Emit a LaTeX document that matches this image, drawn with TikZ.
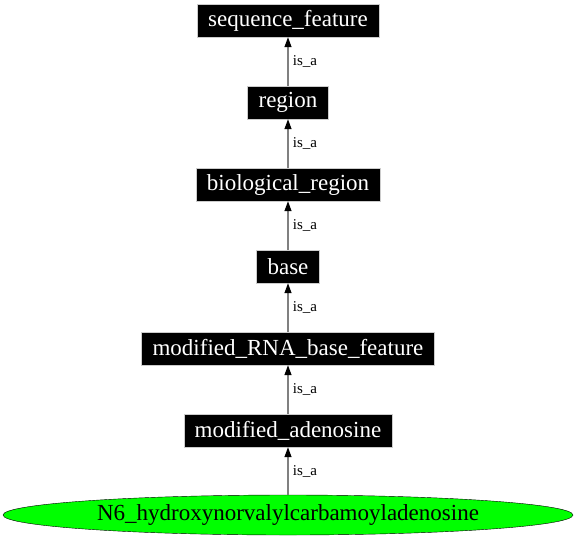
\documentclass[tikz,border=0pt]{standalone}
\usepackage{fontspec}
\setmainfont{Liberation Serif}
\usetikzlibrary{arrows.meta,shapes.geometric}
\definecolor{termc}{HTML}{000000}
\definecolor{leafc}{HTML}{00FF00}
\definecolor{edgec}{HTML}{808080}

\begin{document}
\begin{tikzpicture}[x=1pt,y=-1pt,
    term/.style={fill=termc, text=white, font=\fontsize{23}{26}\selectfont,
      inner xsep=11pt, inner ysep=0pt, minimum height=33pt, draw=edgec!40, line width=0.4pt},
    leaf/.style={ellipse, fill=leafc, draw=black, font=\fontsize{23}{26}\selectfont,
      minimum width=570pt, minimum height=40pt, inner sep=0pt},
    isa/.style={draw=edgec, line width=1.3pt,
      -{Triangle[length=10pt,width=7pt,fill=black,color=black]}},
    rel/.style={font=\fontsize{15}{17}\selectfont, anchor=west, xshift=1pt}]
  \useasboundingbox (0,0) rectangle (576,539);

  % ==========================================================
  %                     TERMS
  % ==========================================================
  \def\xc{288}
  \node[term] (seqfeat)  at (\xc,20.5)  {sequence\_feature};
  \node[term] (region)   at (\xc,102.5) {region};
  \node[term] (bioreg)   at (\xc,184.5) {biological\_region};
  \node[term] (base)     at (\xc,266.5) {base};
  \node[term] (modrna)   at (\xc,348.5) {modified\_RNA\_base\_feature};
  \node[term] (modaden)  at (\xc,430.5) {modified\_adenosine};
  \node[leaf] (hydroxy)  at (\xc,515)   {N6\_hydroxynorvalylcarbamoyladenosine};

  % ==========================================================
  %                     IS_A EDGES
  % ==========================================================
  \foreach \lo/\hi in {region/seqfeat, bioreg/region, base/bioreg,
                       modrna/base, modaden/modrna, hydroxy/modaden} {
    \draw[isa] (\lo) -- (\hi) node[rel, midway] {is\_a};
  }

\end{tikzpicture}
\end{document}
